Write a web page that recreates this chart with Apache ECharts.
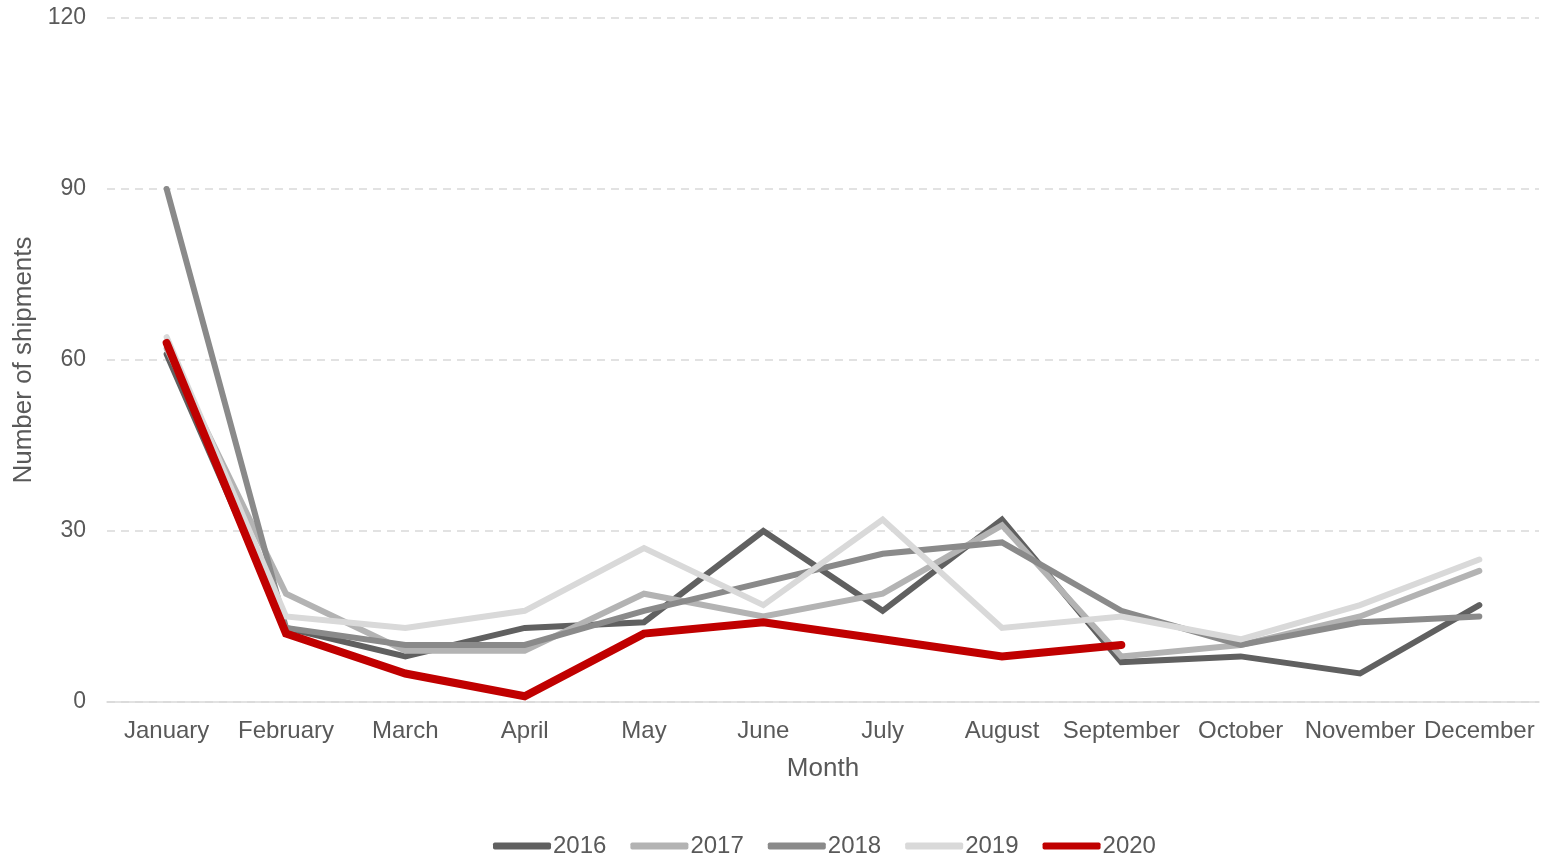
<!DOCTYPE html>
<html>
<head>
<meta charset="utf-8">
<title>Monthly shipments 2016–2020</title>
<script src="https://cdn.jsdelivr.net/npm/echarts@6/dist/echarts.min.js"></script>
<style>
  html, body { margin: 0; padding: 0; background: #ffffff; }
  #chart { width: 1542px; height: 860px; }
</style>
</head>
<body>
<div id="chart"></div>
<script>
// Months on the category axis
const months = ['January', 'February', 'March', 'April', 'May', 'June',
                'July', 'August', 'September', 'October', 'November', 'December'];

// Shipments per month, one array per year
const y2016 = [61, 13, 8, 13, 14, 30, 16, 32, 7, 8, 5, 17];
const y2017 = [62, 19, 9, 9, 19, 15, 19, 31, 8, 10, 15, 23];
const y2018 = [90, 13, 10, 10, 16, 21, 26, 28, 16, 10, 14, 15];
const y2019 = [64, 15, 13, 16, 27, 17, 32, 13, 15, 11, 17, 25];
const y2020 = [63, 12, 5, 1, 12, 14, 11, 8, 10];

const years = ['2016', '2017', '2018', '2019', '2020'];
const yearValues = [y2016, y2017, y2018, y2019, y2020];
const yearColors = ['#606060', '#b3b3b3', '#8a8a8a', '#d9d9d9', '#c00000'];
const yearWidths = [6, 6, 6, 6, 8];

const textColor = '#595959';
const fontFamily = '"Liberation Sans", Arial, sans-serif';

const chart = echarts.init(document.getElementById('chart'), null, { renderer: 'canvas' });

chart.setOption({
  backgroundColor: '#ffffff',
  animation: false,
  grid: { left: 107, right: 3, top: 18, bottom: 158, containLabel: false, outerBoundsMode: 'none' },
  legend: {
    top: 829,
    left: 488,
    itemWidth: 58,
    itemHeight: 7,
    itemGap: 24,
    icon: 'roundRect',
    textStyle: { color: textColor, fontSize: 24, fontFamily: fontFamily, padding: [0, 0, 0, -3] },
    data: years
  },
  xAxis: {
    type: 'category',
    data: months,
    boundaryGap: true,
    name: 'Month',
    nameLocation: 'middle',
    nameGap: 54,
    nameTextStyle: { color: textColor, fontSize: 26, fontFamily: fontFamily },
    axisLine: { lineStyle: { color: '#d9d9d9', width: 1.5 } },
    axisTick: { show: false },
    axisLabel: { color: textColor, fontSize: 24, fontFamily: fontFamily, margin: 17, interval: 0 },
    splitLine: { show: false }
  },
  yAxis: {
    type: 'value',
    min: 0,
    max: 120,
    interval: 30,
    name: 'Number of shipments',
    nameLocation: 'middle',
    nameGap: 69,
    nameRotate: 90,
    nameTextStyle: { color: textColor, fontSize: 26, fontFamily: fontFamily },
    axisLine: { show: false },
    axisTick: { show: false },
    axisLabel: { color: textColor, fontSize: 23, fontFamily: fontFamily, margin: 21 },
    splitLine: { lineStyle: { color: '#d9d9d9', width: 1.5, type: [8, 6] } }
  },
  series: years.map((name, i) => ({
    name: name,
    type: 'line',
    data: yearValues[i],
    showSymbol: false,
    symbol: 'none',
    color: yearColors[i],
    lineStyle: { color: yearColors[i], width: yearWidths[i], cap: 'round', join: 'miter' },
    itemStyle: { color: yearColors[i] },
    z: 2 + i
  }))
});
</script>
</body>
</html>
